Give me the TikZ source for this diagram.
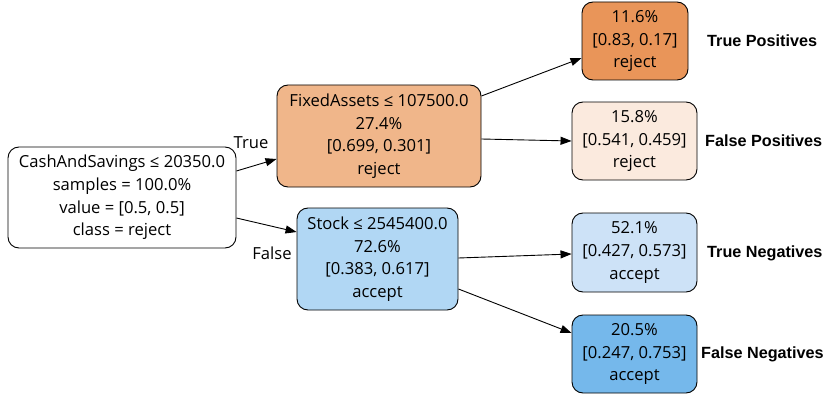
\documentclass[tikz,border=0pt]{standalone}
\usepackage{fontspec}
\setmainfont{Open Sans}
\newfontfamily\tagfont{Liberation Sans}
\usetikzlibrary{arrows.meta}
\definecolor{rejdeep}{HTML}{E99559}
\definecolor{rejmid}{HTML}{F0B68A}
\definecolor{rejpale}{HTML}{FBEADE}
\definecolor{accpale}{HTML}{CDE2F7}
\definecolor{accmid}{HTML}{B1D7F4}
\definecolor{accdeep}{HTML}{75B8EB}
\tikzset{
  leaf/.style={draw=black, line width=0.9pt, rounded corners=11pt, align=center,
    font=\fontsize{16.6}{22.6}\selectfont, inner sep=0pt},
  tag/.style={font=\tagfont\bfseries\fontsize{16.2}{18}\selectfont, anchor=west, inner sep=0pt},
  edge/.style={line width=0.9pt, -{Triangle[length=11pt,width=8pt]}},
  elabel/.style={font=\fontsize{16.6}{18}\selectfont}
}
\begin{document}
\begin{tikzpicture}[x=1pt,y=-1pt]
\useasboundingbox (0,0) rectangle (825,396);
% split nodes
\node[leaf, fill=white, minimum width=228pt, minimum height=101pt] (root) at (122,197.5)
  {CashAndSavings ≤ 20350.0\\samples = 100.0\%\\value = [0.5, 0.5]\\class = reject};
\node[leaf, fill=rejmid, minimum width=204pt, minimum height=102pt] (fa) at (379,136)
  {FixedAssets ≤ 107500.0\\27.4\%\\{[0.699, 0.301]}\\reject};
\node[leaf, fill=accmid, minimum width=161pt, minimum height=102pt] (st) at (377.5,259)
  {Stock ≤ 2545400.0\\72.6\%\\{[0.383, 0.617]}\\accept};
% leaves
\node[leaf, fill=rejdeep, minimum width=106pt, minimum height=78pt] (tp) at (635,41)
  {11.6\%\\{[0.83, 0.17]}\\reject};
\node[leaf, fill=rejpale, minimum width=125pt, minimum height=78pt] (fp) at (634.5,141)
  {15.8\%\\{[0.541, 0.459]}\\reject};
\node[leaf, fill=accpale, minimum width=125pt, minimum height=79pt] (tn) at (634.5,252.5)
  {52.1\%\\{[0.427, 0.573]}\\accept};
\node[leaf, fill=accdeep, minimum width=125pt, minimum height=78pt] (fn) at (634.5,354)
  {20.5\%\\{[0.247, 0.753]}\\accept};
% outcome tags
\node[tag] (tpt) at (707,41) {True Positives};
\node[tag] (fpt) at (705,141) {False Positives};
\node[tag] (tnt) at (707,253) {True Negatives};
\node[tag] (fnt) at (701,354) {False Negatives};
% connectors
\draw[edge] ([yshift=26.5pt]root.east) -- ([yshift=-23pt]fa.west);
\draw[edge] ([yshift=-20.5pt]root.east) -- ([yshift=27pt]st.west);
\draw[edge] ([yshift=40pt]fa.east) -- ([yshift=-17pt]tp.west);
\draw[edge] ([yshift=-3pt]fa.east) -- (fp.west);
\draw[edge] ([yshift=1pt]st.east) -- ([yshift=-1.5pt]tn.west);
\draw[edge] ([yshift=-30pt]st.east) -- ([yshift=21pt]fn.west);
% branch labels
\node[elabel] (lt) at (251,143) {True};
\node[elabel] (lf) at (272,253) {False};
\end{tikzpicture}
\end{document}
